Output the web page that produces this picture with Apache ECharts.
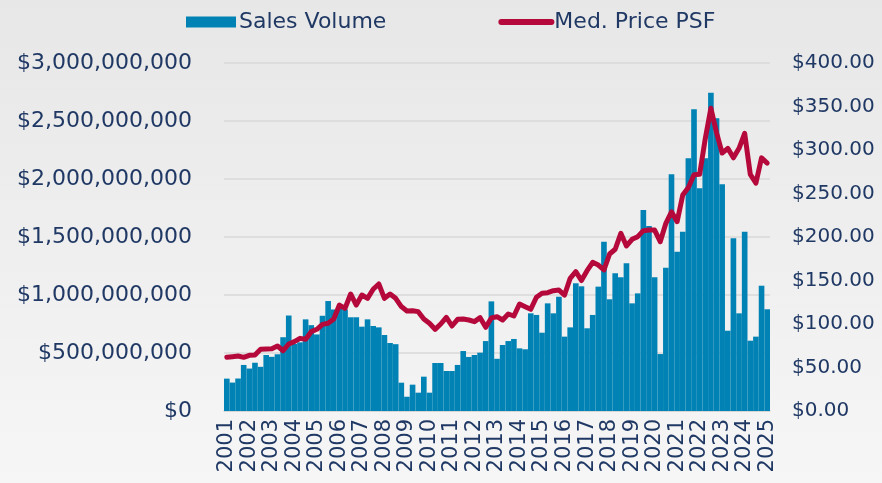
<!DOCTYPE html>
<html>
<head>
<meta charset="utf-8">
<script src="https://cdn.jsdelivr.net/npm/echarts@6/dist/echarts.min.js"></script>
<style>
  html, body { margin: 0; padding: 0; }
  #chart { width: 882px; height: 483px; }
</style>
</head>
<body>
<div id="chart"></div>
<script>
// quarterly, 2001 Q1 .. 2025 Q1
var years = ['2001','2002','2003','2004','2005','2006','2007','2008','2009','2010','2011','2012','2013',
             '2014','2015','2016','2017','2018','2019','2020','2021','2022','2023','2024','2025'];

// sales volume, millions of dollars
var salesVolumeM = [
  279, 245, 280, 397, 366, 416, 381, 483, 467, 489, 636, 823, 578, 592, 790, 740,
  660, 821, 948, 875, 882, 875, 808, 808, 727, 790, 733, 721, 655, 586, 576, 244,
  123, 227, 158, 296, 158, 414, 414, 345, 345, 397, 517, 466, 483, 503, 603, 945,
  450, 569, 603, 621, 540, 532, 842, 828, 675, 928, 842, 985, 641, 721, 1101, 1075,
  713, 828, 1072, 1459, 963, 1187, 1152, 1273, 928, 1014, 1733, 1595, 1152, 491, 1235, 2040,
  1373, 1546, 2178, 2601, 1920, 2178, 2744, 2523, 1954, 692, 1489, 842, 1546, 606, 641, 1080,
  877
];

// median price per square foot
var medPricePsf = [
  61.7, 62.4, 63.2, 61.7, 64.0, 64.4, 70.9, 71.3, 71.6, 74.7, 69.3, 77.0, 79.7, 83.5, 82.4, 91.2,
  93.9, 99.6, 100.8, 105.7, 121.8, 118.0, 134.5, 121.8, 133.3, 129.5, 139.9, 146.0, 129.5, 134.5, 129.5, 120.0,
  115.0, 115.3, 114.2, 105.7, 100.8, 93.9, 100.0, 107.7, 97.7, 105.4, 105.7, 104.6, 102.7, 107.3, 96.2, 107.0,
  108.4, 104.6, 111.5, 109.2, 123.0, 119.9, 116.9, 130.7, 135.3, 136.0, 138.3, 139.0, 133.3, 152.5, 160.1, 150.0,
  161.3, 170.9, 167.8, 162.1, 180.5, 185.9, 204.2, 189.7, 197.3, 200.4, 207.3, 208.0, 208.0, 194.6, 215.7, 229.0,
  217.6, 248.3, 257.0, 271.5, 272.0, 313.0, 347.9, 320.0, 296.5, 301.9, 291.0, 301.9, 319.2, 272.0, 262.0, 291.0,
  285.0
];

var categories = [];
for (var i = 0; i < salesVolumeM.length; i++) {
  categories.push(years[Math.floor(i / 4)] + '-Q' + (i % 4 + 1));
}
var salesVolume = salesVolumeM.map(function (v) { return v * 1e6; });

var navy = '#1f3864';
var red = '#b5093c';
var font = 'DejaVu Sans';

var myChart = echarts.init(document.getElementById('chart'), null, { renderer: 'canvas' });
var option = {
  backgroundColor: {
    type: 'linear', x: 0, y: 0, x2: 0, y2: 1,
    colorStops: [{ offset: 0, color: '#e7e7e7' }, { offset: 1, color: '#f6f6f6' }]
  },
  animation: false,
  textStyle: { fontFamily: font },
  legend: {
    left: 181,
    top: 6,
    itemGap: 112,
    itemWidth: 50,
    itemHeight: 11,
    textStyle: { color: navy, fontSize: 22, fontFamily: font, padding: [0, 0, 0, -2] },
    data: [
      { name: 'Sales Volume', icon: 'rect' },
      { name: 'Med. Price PSF', itemStyle: { opacity: 0 }, lineStyle: { width: 6, cap: 'round' } }
    ]
  },
  grid: {
    left: 224,
    right: 112,
    top: 63,
    bottom: 72
  },
  xAxis: {
    type: 'category',
    data: categories,
    axisTick: { show: false },
    axisLine: { lineStyle: { color: '#d4d4d4', width: 1.5 } },
    axisLabel: {
      interval: 3,
      rotate: 90,
      margin: 8,
      color: navy,
      fontSize: 21,
      fontFamily: font,
      formatter: function (v) { return v.split('-')[0]; }
    }
  },
  yAxis: [
    {
      type: 'value',
      min: 0,
      max: 3000000000,
      interval: 500000000,
      axisLine: { show: false },
      axisTick: { show: false },
      splitLine: { lineStyle: { color: '#d9d9d9', width: 1.5 } },
      axisLabel: {
        margin: 32,
        color: navy,
        fontSize: 22,
        fontFamily: font,
        formatter: function (v) { return '$' + v.toLocaleString('en-US'); }
      }
    },
    {
      type: 'value',
      min: 0,
      max: 400,
      interval: 50,
      position: 'right',
      axisLine: { show: false },
      axisTick: { show: false },
      splitLine: { show: false },
      axisLabel: {
        margin: 22,
        color: navy,
        fontSize: 20,
        fontFamily: font,
        formatter: function (v) { return '$' + v.toFixed(2); }
      }
    }
  ],
  series: [
    {
      name: 'Sales Volume',
      type: 'bar',
      data: salesVolume,
      barCategoryGap: '0%',
      itemStyle: { color: '#0083b4' }
    },
    {
      name: 'Med. Price PSF',
      type: 'line',
      yAxisIndex: 1,
      data: medPricePsf,
      showSymbol: false,
      symbol: 'none',
      lineStyle: { color: red, width: 5, cap: 'round', join: 'round' },
      itemStyle: { color: red }
    }
  ]
};

option && myChart.setOption(option);
</script>
</body>
</html>
